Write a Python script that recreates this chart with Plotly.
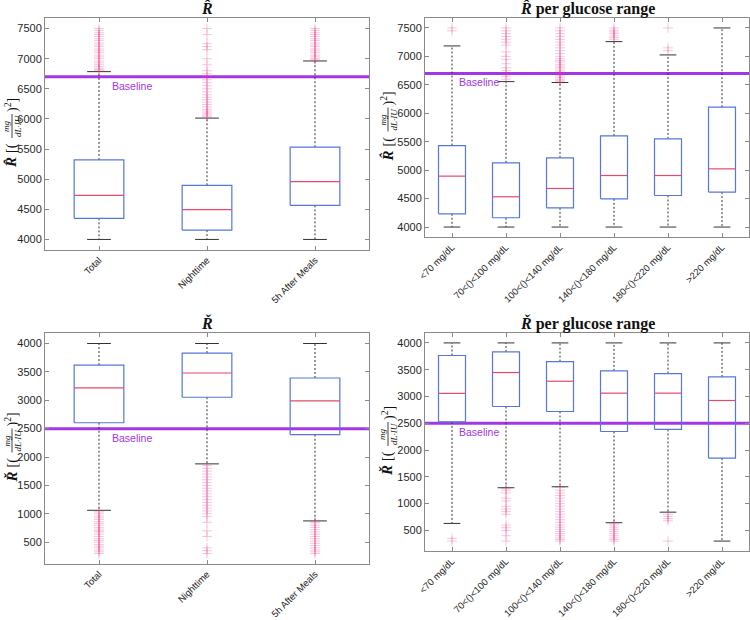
import plotly.graph_objects as go

# ---------------- data ----------------
cats_period = ["Total", "Nighttime", "5h After Meals"]
cats_glucose = ["<70 mg/dL", "70<()<100 mg/dL", "100<()<140 mg/dL",
                "140<()<180 mg/dL", "180<()<220 mg/dL", ">220 mg/dL"]

# R-hat by period
rhat_p_q1 = [4350, 4155, 4566]
rhat_p_med = [4732, 4494, 4960]
rhat_p_q3 = [5320, 4899, 5531]
rhat_p_lo = [4000, 4000, 4000]
rhat_p_hi = [6785, 6014, 6962]
rhat_p_out = [
    [6800, 6820, 6840, 6870, 6900, 6930, 6960, 7000, 7030, 7060, 7100, 7130, 7160,
     7200, 7230, 7260, 7300, 7330, 7370, 7400, 7430, 7470, 7500],
    [6030, 6050, 6080, 6100, 6130, 6160, 6200, 6240, 6280, 6320, 6360, 6400, 6450,
     6500, 6550, 6600, 6650, 6700, 6750, 6800, 6900, 7000, 7150, 7200, 7250, 7400, 7500],
    [6980, 7000, 7030, 7060, 7100, 7130, 7160, 7200, 7230, 7260, 7300, 7330, 7370,
     7400, 7430, 7470, 7500],
]

# R-hat per glucose range
rhat_g_q1 = [4233, 4163, 4338, 4496, 4555, 4614]
rhat_g_med = [4895, 4532, 4678, 4906, 4906, 5023]
rhat_g_q3 = [5433, 5129, 5217, 5603, 5550, 6107]
rhat_g_lo = [4000, 4000, 4000, 4000, 4000, 4000]
rhat_g_hi = [7184, 6557, 6540, 7260, 7026, 7500]
rhat_g_out = [
    [7450, 7500],
    [6600, 6650, 6700, 6750, 6800, 6870, 6950, 7000, 7080, 7200, 7250, 7300, 7350, 7400, 7450, 7500],
    [6560, 6580, 6600, 6630, 6660, 6700, 6730, 6760, 6800, 6830, 6860, 6900, 6930, 6960,
     7000, 7050, 7100, 7150, 7200, 7250, 7300, 7350, 7400, 7450, 7500],
    [7300, 7330, 7360, 7400, 7430, 7460, 7500],
    [7100, 7150, 7500],
    [],
]

# R-check by period
rchk_p_q1 = [2604, 3053, 2393]
rchk_p_med = [3217, 3480, 2989]
rchk_p_q3 = [3620, 3831, 3392]
rchk_p_lo = [1061, 1879, 874]
rchk_p_hi = [4000, 4000, 4000]
rchk_p_out = [
    [300, 330, 360, 400, 430, 460, 500, 530, 560, 600, 640, 680, 700, 730, 760, 800,
     830, 860, 900, 930, 960, 1000, 1030, 1050],
    [300, 350, 400, 600, 700, 850, 950, 1000, 1050, 1100, 1150, 1200, 1250, 1300, 1350,
     1400, 1450, 1500, 1550, 1600, 1650, 1700, 1750, 1800, 1850],
    [300, 330, 360, 400, 440, 480, 520, 560, 600, 640, 680, 720, 760, 800, 840, 860],
]

# R-check per glucose range
rchk_g_q1 = [2526, 2813, 2719, 2346, 2384, 1849]
rchk_g_med = [3058, 3447, 3285, 3062, 3062, 2925]
rchk_g_q3 = [3765, 3832, 3652, 3478, 3428, 3366]
rchk_g_lo = [630, 1296, 1314, 643, 840, 300]
rchk_g_hi = [4000, 4000, 4000, 4000, 4000, 4000]
rchk_g_out = [
    [300, 350],
    [300, 400, 500, 550, 600, 800, 850, 900, 950, 1050, 1100, 1200, 1250, 1280],
    [300, 330, 360, 400, 440, 480, 520, 560, 600, 650, 700, 750, 800, 850, 900, 950,
     1000, 1050, 1100, 1150, 1200, 1250, 1300],
    [300, 330, 360, 400, 440, 480, 520, 560, 600, 630],
    [300, 680, 720, 760, 800],
    [],
]

rhat_baseline = 6700
rchk_baseline = 2500

rhat_ticks = [4000, 4500, 5000, 5500, 6000, 6500, 7000, 7500]
rchk_ticks = [500, 1000, 1500, 2000, 2500, 3000, 3500, 4000]

# ---------------- style ----------------
W, H = 750, 620
BOX_C = "#5577d9"
MED_C = "#e4486a"
WH_C = "#333333"
BASE_C = "#a336e6"
OUT_C = "rgba(236,60,140,0.3)"
AX_C = "#8a8a8a"
TXT_C = "#262626"

fig = go.Figure()


def px_x(p):
    return p / W


def px_y(p):
    return 1 - p / H


def add_panel(idx, cats, q1, med, q3, lo, hi, outs, baseline, bw, cw):
    xa = "x" if idx == 1 else f"x{idx}"
    ya = "y" if idx == 1 else f"y{idx}"
    bx, by, mx, my, wx, wy, cx, cy, ox, oy = [], [], [], [], [], [], [], [], [], []
    for i in range(len(cats)):
        p = i + 1
        h = bw / 2
        bx += [p - h, p + h, p + h, p - h, p - h, None]
        by += [q1[i], q1[i], q3[i], q3[i], q1[i], None]
        mx += [p - h, p + h, None]
        my += [med[i], med[i], None]
        wx += [p, p, None, p, p, None]
        wy += [q3[i], hi[i], None, q1[i], lo[i], None]
        cx += [p - cw / 2, p + cw / 2, None, p - cw / 2, p + cw / 2, None]
        cy += [hi[i], hi[i], None, lo[i], lo[i], None]
        for v in outs[i]:
            ox.append(p)
            oy.append(v)
    n = len(cats)
    fig.add_trace(go.Scatter(x=[0.5, n + 0.5], y=[baseline, baseline], mode="lines",
                             line=dict(color=BASE_C, width=3), xaxis=xa, yaxis=ya,
                             hoverinfo="skip", showlegend=False))
    fig.add_trace(go.Scatter(x=wx, y=wy, mode="lines",
                             line=dict(color=WH_C, width=1, dash="2px,2px"),
                             xaxis=xa, yaxis=ya, hoverinfo="skip", showlegend=False))
    fig.add_trace(go.Scatter(x=cx, y=cy, mode="lines", line=dict(color=WH_C, width=1),
                             xaxis=xa, yaxis=ya, hoverinfo="skip", showlegend=False))
    fig.add_trace(go.Scatter(x=bx, y=by, mode="lines", line=dict(color=BOX_C, width=1.2),
                             xaxis=xa, yaxis=ya, hoverinfo="skip", showlegend=False))
    fig.add_trace(go.Scatter(x=mx, y=my, mode="lines", line=dict(color=MED_C, width=1.2),
                             xaxis=xa, yaxis=ya, hoverinfo="skip", showlegend=False))
    fig.add_trace(go.Scatter(x=ox, y=oy, mode="markers",
                             marker=dict(symbol="cross-thin", size=7,
                                         line=dict(color=OUT_C, width=1)),
                             xaxis=xa, yaxis=ya, hoverinfo="skip", showlegend=False))
    fig.add_annotation(x=1.1, y=baseline, xref=xa, yref=ya, text="Baseline",
                       showarrow=False, xanchor="left", yanchor="top", yshift=-1,
                       font=dict(family="Liberation Sans, Arial", size=10.5, color=BASE_C))


add_panel(1, cats_period, rhat_p_q1, rhat_p_med, rhat_p_q3, rhat_p_lo, rhat_p_hi,
          rhat_p_out, rhat_baseline, 0.46, 0.22)
add_panel(2, cats_glucose, rhat_g_q1, rhat_g_med, rhat_g_q3, rhat_g_lo, rhat_g_hi,
          rhat_g_out, rhat_baseline, 0.5, 0.31)
add_panel(3, cats_period, rchk_p_q1, rchk_p_med, rchk_p_q3, rchk_p_lo, rchk_p_hi,
          rchk_p_out, rchk_baseline, 0.46, 0.22)
add_panel(4, cats_glucose, rchk_g_q1, rchk_g_med, rchk_g_q3, rchk_g_lo, rchk_g_hi,
          rchk_g_out, rchk_baseline, 0.5, 0.31)

# panel boxes in pixels (left, right, top, bottom)
boxes = {
    1: (45, 369, 18, 250),
    2: (425, 749, 18, 237),
    3: (45, 369, 333, 564),
    4: (425, 749, 333, 551),
}
ytickfont = dict(family="Liberation Sans, Arial", size=11, color=TXT_C)
xtickfont = dict(family="Liberation Sans, Arial", size=9.5, color=TXT_C)


def esc(s):
    return s.replace("<", "&lt;").replace(">", "&gt;")


layout = {}
for idx, (l, r, t, b) in boxes.items():
    cats = cats_period if idx in (1, 3) else cats_glucose
    yr = [3825, 7675] if idx in (1, 2) else [115, 4185]
    yt = rhat_ticks if idx in (1, 2) else rchk_ticks
    xk = "xaxis" if idx == 1 else f"xaxis{idx}"
    yk = "yaxis" if idx == 1 else f"yaxis{idx}"
    ya = "y" if idx == 1 else f"y{idx}"
    xa = "x" if idx == 1 else f"x{idx}"
    layout[xk] = dict(domain=[px_x(l), px_x(r)], range=[0.5, len(cats) + 0.5],
                      tickvals=list(range(1, len(cats) + 1)),
                      ticktext=[esc(c) for c in cats], tickangle=-45, automargin=False,
                      anchor=ya, showline=True, mirror="ticks", linecolor=AX_C,
                      linewidth=1, ticks="inside", ticklen=4, tickcolor=AX_C,
                      showgrid=False, zeroline=False, tickfont=xtickfont, fixedrange=True)
    layout[yk] = dict(domain=[px_y(b), px_y(t)], range=yr, tickvals=yt, automargin=False,
                      anchor=xa, showline=True, mirror="ticks", linecolor=AX_C,
                      linewidth=1, ticks="inside", ticklen=4, tickcolor=AX_C,
                      showgrid=False, zeroline=False, tickfont=ytickfont, fixedrange=True)

fig.update_layout(width=W, height=H, margin=dict(l=0, r=0, t=0, b=0, autoexpand=False),
                  paper_bgcolor="white", plot_bgcolor="white", **layout)

serif = "Liberation Serif, DejaVu Serif, serif"
titles = [
    (207, 8, "<b><i>R̂</i></b>"),
    (587, 8, "<b><i>R̂</i> per glucose range</b>"),
    (207, 323, "<b><i>Ř</i></b>"),
    (587, 323, "<b><i>Ř</i> per glucose range</b>"),
]
for x, y, txt in titles:
    fig.add_annotation(x=px_x(x), y=px_y(y), xref="paper", yref="paper", text=txt,
                       showarrow=False, xanchor="center", yanchor="middle",
                       font=dict(family=serif, size=16, color="#111111"))

# y-axis titles: symbol, bracket, stacked fraction (mg over dL·IU), closing part
ysym = [(11, 134, "R̂"), (387, 127.5, "R̂"), (11, 448.5, "Ř"), (387, 442, "Ř")]
for x, yc, sym in ysym:
    fig.add_annotation(x=px_x(x), y=px_y(yc + 29), xref="paper", yref="paper",
                       text=f"<b><i>{sym}</i></b>", showarrow=False, textangle=-90,
                       xanchor="center", yanchor="middle",
                       font=dict(family=serif, size=15, color="#111111"))
    fig.add_annotation(x=px_x(x + 1), y=px_y(yc + 14), xref="paper", yref="paper",
                       text="[(", showarrow=False, textangle=-90,
                       xanchor="center", yanchor="middle",
                       font=dict(family=serif, size=14, color="#111111"))
    fig.add_annotation(x=px_x(x + 1), y=px_y(yc - 8), xref="paper", yref="paper",
                       text="<i>mg</i><br><i>dL·IU</i>", showarrow=False, textangle=-90,
                       xanchor="center", yanchor="middle",
                       font=dict(family=serif, size=9, color="#111111"))
    fig.add_shape(type="line", xref="paper", yref="paper",
                  x0=px_x(x + 1), x1=px_x(x + 1), y0=px_y(yc - 20), y1=px_y(yc + 4),
                  line=dict(color="#111111", width=0.8))
    fig.add_annotation(x=px_x(x + 1), y=px_y(yc - 29), xref="paper", yref="paper",
                       text=")<sup>2</sup>]", showarrow=False, textangle=-90,
                       xanchor="center", yanchor="middle",
                       font=dict(family=serif, size=14, color="#111111"))

fig.write_html("out.html", config={"displayModeBar": False, "staticPlot": True},
               post_script="document.body.style.margin='0';"
                           "document.body.style.overflow='hidden';")
